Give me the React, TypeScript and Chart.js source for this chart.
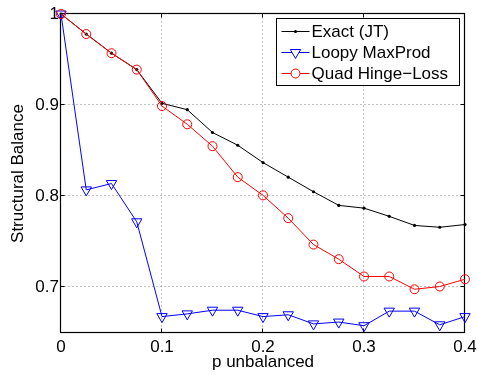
import React, { useEffect, useRef } from "react";
import { Chart, registerables } from "chart.js";

Chart.register(...registerables);

const pUnbalanced = [0, 0.025, 0.05, 0.075, 0.1, 0.125, 0.15, 0.175, 0.2, 0.225, 0.25, 0.275, 0.3, 0.325, 0.35, 0.375, 0.4];
const exactJT = [1.0, 0.978, 0.957, 0.939, 0.902, 0.895, 0.870, 0.856, 0.837, 0.821, 0.805, 0.790, 0.787, 0.778, 0.768, 0.766, 0.769];
const loopyMaxProd = [1.0, 0.807, 0.814, 0.772, 0.668, 0.671, 0.675, 0.675, 0.668, 0.670, 0.660, 0.662, 0.658, 0.674, 0.674, 0.659, 0.668];
const quadHingeLoss = [1.0, 0.978, 0.957, 0.939, 0.899, 0.879, 0.855, 0.821, 0.801, 0.776, 0.747, 0.731, 0.712, 0.712, 0.698, 0.701, 0.709];

const seriesNames = ["Exact (JT)", "Loopy MaxProd", "Quad Hinge\u2212Loss"];
const xTickValues = [0, 0.1, 0.2, 0.3, 0.4];
const xTickLabels = ["0", "0.1", "0.2", "0.3", "0.4"];
const yTickValues = [0.7, 0.8, 0.9, 1.0];
const yTickLabels = ["0.7", "0.8", "0.9", "1"];
const xTitle = "p unbalanced";
const yTitle = "Structural Balance";

const FONT = '"Liberation Sans", Arial, Helvetica, sans-serif';

const toPoints = (ys: number[]) => pUnbalanced.map((x, i) => ({ x, y: ys[i] }));

const framePlugin = {
  id: "matlabFrame",
  beforeDatasetsDraw(chart: any) {
    const { ctx, chartArea: a, scales } = chart;
    const xs = scales.x;
    const ys = scales.y;
    const L = Math.round(a.left) - 0.5;
    const R = Math.round(a.right) - 0.5;
    const T = Math.round(a.top) - 0.5;
    const B = Math.round(a.bottom) - 0.5;
    ctx.save();
    // dotted grid
    ctx.strokeStyle = "#808080";
    ctx.lineWidth = 1;
    ctx.setLineDash([1, 3]);
    ctx.beginPath();
    xTickValues.forEach((v) => {
      const px = Math.round(xs.getPixelForValue(v)) - 0.5;
      if (px > L + 1 && px < R - 1) {
        ctx.moveTo(px, T);
        ctx.lineTo(px, B);
      }
    });
    yTickValues.forEach((v) => {
      const py = Math.round(ys.getPixelForValue(v)) - 0.5;
      if (py > T + 1 && py < B - 1) {
        ctx.moveTo(L, py);
        ctx.lineTo(R, py);
      }
    });
    ctx.stroke();
    ctx.setLineDash([]);
    // frame
    ctx.strokeStyle = "#000";
    ctx.lineWidth = 1.2;
    ctx.strokeRect(L, T, R - L, B - T);
    // inward ticks
    const tl = 4;
    ctx.lineWidth = 1;
    ctx.beginPath();
    xTickValues.forEach((v) => {
      const px = Math.round(xs.getPixelForValue(v)) - 0.5;
      ctx.moveTo(px, B);
      ctx.lineTo(px, B - tl);
      ctx.moveTo(px, T);
      ctx.lineTo(px, T + tl);
    });
    yTickValues.forEach((v) => {
      const py = Math.round(ys.getPixelForValue(v)) - 0.5;
      ctx.moveTo(L, py);
      ctx.lineTo(L + tl, py);
      ctx.moveTo(R, py);
      ctx.lineTo(R - tl, py);
    });
    ctx.stroke();
    ctx.restore();
  },
  afterDatasetsDraw(chart: any) {
    const { ctx, chartArea: a } = chart;
    const right = Math.round(a.right) - 5.5;
    const top = Math.round(a.top) + 4.5;
    const w = 183;
    const h = 67;
    const left = right - w;
    ctx.save();
    ctx.fillStyle = "#fff";
    ctx.fillRect(left, top, w, h);
    ctx.strokeStyle = "#000";
    ctx.lineWidth = 1;
    ctx.strokeRect(left, top, w, h);
    const rowY = [top + 13, top + 34, top + 55];
    const lineX0 = left + 5;
    const lineX1 = left + 33;
    const mx = left + 19;
    const colors = ["#000000", "#0000ff", "#ff0000"];
    seriesNames.forEach((name, i) => {
      const y = rowY[i];
      ctx.strokeStyle = colors[i];
      ctx.lineWidth = 1;
      ctx.beginPath();
      ctx.moveTo(lineX0, y);
      ctx.lineTo(lineX1, y);
      ctx.stroke();
      if (i === 0) {
        ctx.fillStyle = colors[i];
        ctx.beginPath();
        ctx.arc(mx, y, 1.6, 0, Math.PI * 2);
        ctx.fill();
      } else if (i === 1) {
        const r = 6;
        ctx.beginPath();
        ctx.moveTo(mx, y + r);
        ctx.lineTo(mx - r * Math.sin(Math.PI / 3), y - r * 0.5);
        ctx.lineTo(mx + r * Math.sin(Math.PI / 3), y - r * 0.5);
        ctx.closePath();
        ctx.fillStyle = "#fff";
        ctx.fill();
        ctx.stroke();
      } else {
        ctx.beginPath();
        ctx.arc(mx, y, 4.5, 0, Math.PI * 2);
        ctx.fillStyle = "#fff";
        ctx.fill();
        ctx.stroke();
      }
      ctx.fillStyle = "#000";
      ctx.font = `17px ${FONT}`;
      ctx.textAlign = "left";
      ctx.textBaseline = "middle";
      ctx.fillText(name, left + 35, y + 1);
    });
    ctx.restore();
  },
};

export default function App() {
  const canvasRef = useRef<HTMLCanvasElement | null>(null);

  useEffect(() => {
    const canvas = canvasRef.current;
    if (!canvas) return;
    const chart = new Chart(canvas, {
      type: "line",
      data: {
        datasets: [
          {
            label: seriesNames[0],
            data: toPoints(exactJT),
            borderColor: "#000000",
            backgroundColor: "#000000",
            borderWidth: 1,
            pointRadius: 1.6,
            pointBorderWidth: 0,
            pointStyle: "circle",
            tension: 0,
            clip: false,
            order: 3,
          } as any,
          {
            label: seriesNames[1],
            data: toPoints(loopyMaxProd),
            borderColor: "#0000ff",
            backgroundColor: "rgba(0,0,0,0)",
            borderWidth: 1,
            pointRadius: 6,
            pointBorderWidth: 1,
            pointStyle: "triangle",
            rotation: 180,
            tension: 0,
            clip: false,
            order: 2,
          } as any,
          {
            label: seriesNames[2],
            data: toPoints(quadHingeLoss),
            borderColor: "#ff0000",
            backgroundColor: "rgba(0,0,0,0)",
            borderWidth: 1,
            pointRadius: 4.5,
            pointBorderWidth: 1,
            pointStyle: "circle",
            tension: 0,
            clip: false,
            order: 1,
          } as any,
        ],
      },
      options: {
        animation: false,
        responsive: false,
        maintainAspectRatio: false,
        devicePixelRatio: 1,
        layout: { padding: { top: 14, right: 12, left: 0, bottom: 0 } },
        plugins: {
          legend: { display: false },
          tooltip: { enabled: false },
        },
        scales: {
          x: {
            type: "linear",
            min: 0,
            max: 0.4,
            grid: { display: false, drawTicks: false },
            border: { display: false },
            afterBuildTicks: (scale: any) => {
              scale.ticks = xTickValues.map((value) => ({ value }));
            },
            afterFit: (scale: any) => {
              scale.height = 42;
              scale.paddingLeft = 0;
              scale.paddingRight = 0;
            },
            ticks: {
              autoSkip: false,
              maxRotation: 0,
              padding: 4,
              color: "#000",
              font: { family: FONT, size: 17 },
              callback: (v: any) => {
                const i = xTickValues.findIndex((t) => Math.abs(t - Number(v)) < 1e-9);
                return i >= 0 ? xTickLabels[i] : "";
              },
            },
            title: {
              display: true,
              text: xTitle,
              color: "#000",
              font: { family: FONT, size: 17 },
              padding: { top: 0, bottom: 2 },
            },
          },
          y: {
            type: "linear",
            min: 0.65,
            max: 1.0,
            grid: { display: false, drawTicks: false },
            border: { display: false },
            afterBuildTicks: (scale: any) => {
              scale.ticks = yTickValues.map((value) => ({ value }));
            },
            afterFit: (scale: any) => {
              scale.width = 61;
              scale.paddingTop = 0;
              scale.paddingBottom = 0;
            },
            ticks: {
              autoSkip: false,
              padding: 2,
              color: "#000",
              font: { family: FONT, size: 17 },
              callback: (v: any) => {
                const i = yTickValues.findIndex((t) => Math.abs(t - Number(v)) < 1e-9);
                return i >= 0 ? yTickLabels[i] : "";
              },
            },
            title: {
              display: true,
              text: yTitle,
              color: "#000",
              font: { family: FONT, size: 17 },
              padding: { top: 8, bottom: 0 },
            },
          },
        },
      },
      plugins: [framePlugin],
    });
    return () => chart.destroy();
  }, []);

  return (
    <div style={{ position: "absolute", left: 0, top: 0, width: 477, height: 375, background: "#fff" }}>
      <canvas ref={canvasRef} width={477} height={375} style={{ width: 477, height: 375, display: "block" }} />
    </div>
  );
}
